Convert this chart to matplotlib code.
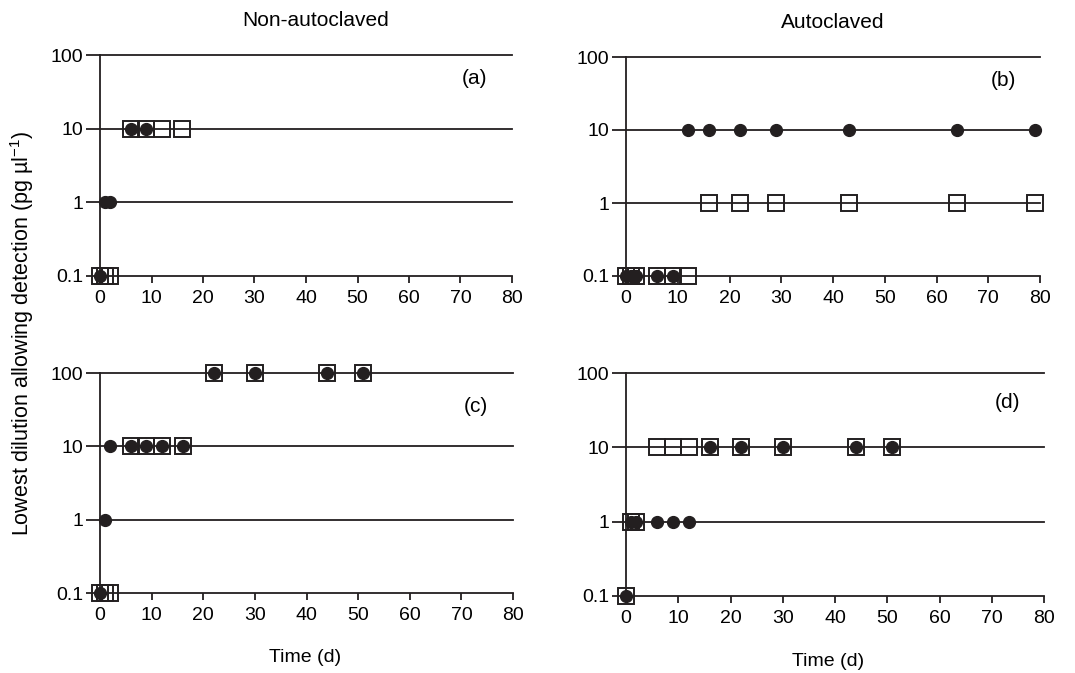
import numpy as np
import matplotlib
matplotlib.use("Agg")
import matplotlib.pyplot as plt

plt.rcParams['font.family'] = ['Liberation Sans', 'DejaVu Sans']
plt.rcParams['font.size'] = 14

# data: time (d) and lowest dilution (pg/ul)
a_circ_t = [0, 1, 2, 6, 9]
a_circ_v = [0.1, 1, 1, 10, 10]
a_sq_t = [0, 1, 2, 6, 9, 12, 16]
a_sq_v = [0.1, 0.1, 0.1, 10, 10, 10, 10]

b_circ_t = [0, 1, 2, 6, 9, 12, 16, 22, 29, 43, 64, 79]
b_circ_v = [0.1, 0.1, 0.1, 0.1, 0.1, 10, 10, 10, 10, 10, 10, 10]
b_sq_t = [0, 1, 2, 6, 9, 12, 16, 22, 29, 43, 64, 79]
b_sq_v = [0.1, 0.1, 0.1, 0.1, 0.1, 0.1, 1, 1, 1, 1, 1, 1]

c_circ_t = [0, 1, 2, 6, 9, 12, 16, 22, 30, 44, 51]
c_circ_v = [0.1, 1, 10, 10, 10, 10, 10, 100, 100, 100, 100]
c_sq_t = [0, 1, 2, 6, 9, 12, 16, 22, 30, 44, 51]
c_sq_v = [0.1, 0.1, 0.1, 10, 10, 10, 10, 100, 100, 100, 100]

d_circ_t = [0, 1, 2, 6, 9, 12, 16, 22, 30, 44, 51]
d_circ_v = [0.1, 1, 1, 1, 1, 1, 10, 10, 10, 10, 10]
d_sq_t = [0, 1, 2, 6, 9, 12, 16, 22, 30, 44, 51]
d_sq_v = [0.1, 1, 1, 10, 10, 10, 10, 10, 10, 10, 10]

y_levels = [0.1, 1, 10, 100]
y_labels = ['0.1', '1', '10', '100']
x_ticks = [0, 10, 20, 30, 40, 50, 60, 70, 80]

ink = '#231f20'
W, H = 1075, 673
fig = plt.figure(figsize=(W / 100, H / 100), dpi=100)


def px_axes(x0, x1, ytop, ybot):
    return fig.add_axes([x0 / W, 1 - ybot / H, (x1 - x0) / W, (ybot - ytop) / H])


panels = [
    (px_axes(100, 512, 55, 276), a_circ_t, a_circ_v, a_sq_t, a_sq_v, '(a)', 79),
    (px_axes(626, 1040, 57, 276), b_circ_t, b_circ_v, b_sq_t, b_sq_v, '(b)', 80),
    (px_axes(100, 513, 373, 593), c_circ_t, c_circ_v, c_sq_t, c_sq_v, '(c)', 407),
    (px_axes(626, 1044, 373, 596), d_circ_t, d_circ_v, d_sq_t, d_sq_v, '(d)', 402),
]

for ax, ct, cv, st, sv, lab, ly in panels:
    ax.set_yscale('log')
    ax.set_xlim(0, 80)
    ax.set_ylim(0.1, 100)
    for lev in y_levels[1:]:
        ax.axhline(lev, color=ink, lw=1.3, zorder=1, clip_on=False)
    ax.plot(st, sv, ls='none', marker='s', ms=12, mfc='none', mec=ink,
            mew=1.4, clip_on=False, zorder=3)
    ax.plot(ct, cv, ls='none', marker='o', ms=8.5, mfc=ink, mec=ink,
            clip_on=False, zorder=4)
    for s in ['top', 'right']:
        ax.spines[s].set_visible(False)
    for s in ['left', 'bottom']:
        ax.spines[s].set_color(ink)
        ax.spines[s].set_linewidth(1.3)
    ax.set_yticks(y_levels)
    ax.set_yticklabels(y_labels)
    ax.minorticks_off()
    ax.set_xticks(x_ticks)
    ax.tick_params(axis='y', length=10, width=1.3, color=ink, pad=2)
    ax.tick_params(axis='x', length=5, width=1.3, color=ink, pad=5)
    ax.set_facecolor('none')
    pos = ax.get_position()
    fig.text(pos.x1 - 37 / W, 1 - ly / H, lab, ha='center', va='center', fontsize=15)

fig.text(316 / W, 1 - 20 / H, 'Non-autoclaved', ha='center', va='center', fontsize=15)
fig.text(833 / W, 1 - 22 / H, 'Autoclaved', ha='center', va='center', fontsize=15)
fig.text(305 / W, 1 - 657 / H, 'Time (d)', ha='center', va='center', fontsize=14)
fig.text(828 / W, 1 - 661 / H, 'Time (d)', ha='center', va='center', fontsize=14)
fig.text(22 / W, 1 - 333 / H, r'Lowest dilution allowing detection (pg µl$\mathregular{^{-1}}$)',
         rotation=90, ha='center', va='center', fontsize=15.5)

plt.savefig('out.png', dpi=100)
